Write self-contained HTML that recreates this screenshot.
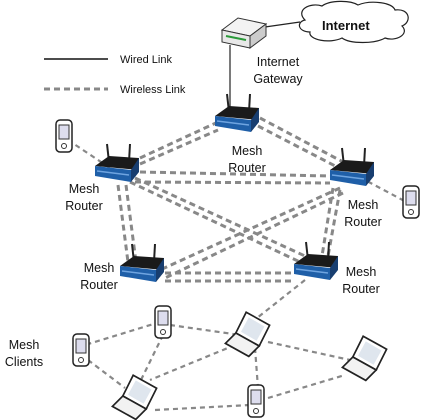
<!DOCTYPE html>
<html><head><style>body{margin:0;background:#fff}svg{display:block}text{font-family:"Liberation Sans",sans-serif;fill:#111}</style></head><body>
<svg width="428" height="420" viewBox="0 0 428 420" xmlns="http://www.w3.org/2000/svg">
<defs>
<g id="rt">
<line x1="-8" y1="-6" x2="-10" y2="-24" stroke="#222" stroke-width="2"/>
<line x1="12" y1="-6" x2="13" y2="-24" stroke="#222" stroke-width="2"/>
<polygon points="-22,-2 -8,-12 22,-10 22,2" fill="#1a1a1a"/>
<polygon points="-22,-2 14,2 14,14 -22,8" fill="#1f5fa8"/>
<polygon points="14,2 22,-10 22,4 14,14" fill="#183e70"/>
<line x1="-20" y1="3" x2="12" y2="7" stroke="#6fa4e0" stroke-width="1.5"/>
</g>
<g id="ph">
<rect x="-8" y="-16" width="16" height="32" rx="4" fill="#fff" stroke="#222" stroke-width="1.5"/>
<rect x="-5" y="-11" width="10" height="14" fill="#dde" stroke="#333"/>
<circle cx="0" cy="10" r="2.5" fill="none" stroke="#333"/>
</g>
<g id="lp">
<polygon points="-6,-16 12,-6 4,10 -14,0" fill="#fff" stroke="#222" stroke-width="1.3"/>
<polygon points="-4,-12 8,-5 2,6 -10,-1" fill="#dfe6ee"/>
<polygon points="-14,0 4,10 -4,18 -22,8" fill="#f2f2f2" stroke="#222" stroke-width="1.3"/>
</g>
</defs>
<g stroke="#888" stroke-width="2.2" stroke-dasharray="5,4" fill="none">
<line x1="68" y1="140" x2="110" y2="168"/>
<line x1="412" y1="205" x2="365" y2="180"/>
<line x1="305" y1="280" x2="252" y2="322"/>
<line x1="160" y1="322" x2="85" y2="345"/>
<line x1="170" y1="325" x2="240" y2="335"/>
<line x1="163" y1="335" x2="140" y2="382"/>
<line x1="88" y1="360" x2="125" y2="388"/>
<line x1="235" y1="345" x2="150" y2="380"/>
<line x1="255" y1="348" x2="258" y2="388"/>
<line x1="268" y1="342" x2="350" y2="360"/>
<line x1="155" y1="410" x2="250" y2="405"/>
<line x1="268" y1="398" x2="345" y2="375"/>
</g>
<g stroke="#888" stroke-width="3" stroke-dasharray="6,4" fill="none">
<line x1="140" y1="158" x2="218" y2="122"/><line x1="140" y1="164" x2="218" y2="130"/>
<line x1="260" y1="118" x2="345" y2="163"/><line x1="258" y1="126" x2="343" y2="170"/>
<line x1="140" y1="172" x2="330" y2="176"/><line x1="135" y1="182" x2="330" y2="183"/>
<line x1="118" y1="185" x2="128" y2="262"/><line x1="126" y1="185" x2="136" y2="262"/>
<line x1="130" y1="182" x2="300" y2="262"/><line x1="135" y1="178" x2="305" y2="256"/>
<line x1="340" y1="188" x2="160" y2="270"/><line x1="343" y1="193" x2="165" y2="278"/>
<line x1="333" y1="188" x2="322" y2="256"/><line x1="340" y1="190" x2="328" y2="256"/>
<line x1="165" y1="273" x2="295" y2="273"/><line x1="165" y1="281" x2="295" y2="281"/>
</g>
<line x1="230" y1="45" x2="230" y2="115" stroke="#222" stroke-width="1.2"/>
<line x1="44" y1="59" x2="108" y2="59" stroke="#111" stroke-width="1.5"/>
<line x1="44" y1="89" x2="108" y2="89" stroke="#888" stroke-width="3" stroke-dasharray="6,4"/>
<text x="120" y="63" font-size="11">Wired Link</text>
<text x="120" y="93" font-size="11">Wireless Link</text>
<line x1="265" y1="27" x2="300" y2="22" stroke="#222" stroke-width="1.2"/>
<path d="M305,20 C295,10 310,2 322,6 C330,0 350,0 358,5 C370,0 392,2 395,10 C410,8 412,22 402,26 C410,34 396,42 385,38 C375,44 350,44 342,38 C330,44 308,40 310,32 C298,32 296,22 305,20 Z" fill="#fff" stroke="#222" stroke-width="1.2"/>
<text x="322" y="30" font-size="13" font-weight="bold">Internet</text>
<polygon points="222,30 238,18 266,24 250,36" fill="#f3f3f3" stroke="#333"/>
<polygon points="222,30 250,36 250,48 222,42" fill="#e8e8e8" stroke="#333"/>
<polygon points="250,36 266,24 266,36 250,48" fill="#ccc" stroke="#333"/>
<line x1="226" y1="36" x2="246" y2="40" stroke="#2a9a3a" stroke-width="2"/>
<text x="278" y="66" font-size="12.5" text-anchor="middle">Internet</text>
<text x="278" y="83" font-size="12.5" text-anchor="middle">Gateway</text>
<use href="#rt" x="237" y="118"/>
<use href="#rt" x="117" y="168"/>
<use href="#rt" x="352" y="172"/>
<use href="#rt" x="142" y="268"/>
<use href="#rt" x="316" y="266"/>
<g font-size="12.5" text-anchor="middle">
<text x="247" y="155">Mesh</text><text x="247" y="172">Router</text>
<text x="84" y="193">Mesh</text><text x="84" y="210">Router</text>
<text x="363" y="209">Mesh</text><text x="363" y="226">Router</text>
<text x="99" y="272">Mesh</text><text x="99" y="289">Router</text>
<text x="361" y="276">Mesh</text><text x="361" y="293">Router</text>
<text x="24" y="349">Mesh</text><text x="24" y="366">Clients</text>
</g>
<use href="#ph" x="64" y="136"/>
<use href="#ph" x="411" y="202"/>
<use href="#ph" x="163" y="322"/>
<use href="#ph" x="81" y="350"/>
<use href="#ph" x="256" y="401"/>
<g transform="translate(254,333) scale(1.3)"><use href="#lp"/></g>
<g transform="translate(141,396) scale(1.3)"><use href="#lp"/></g>
<g transform="translate(371,357) scale(1.3)"><use href="#lp"/></g>
</svg>
</body></html>
